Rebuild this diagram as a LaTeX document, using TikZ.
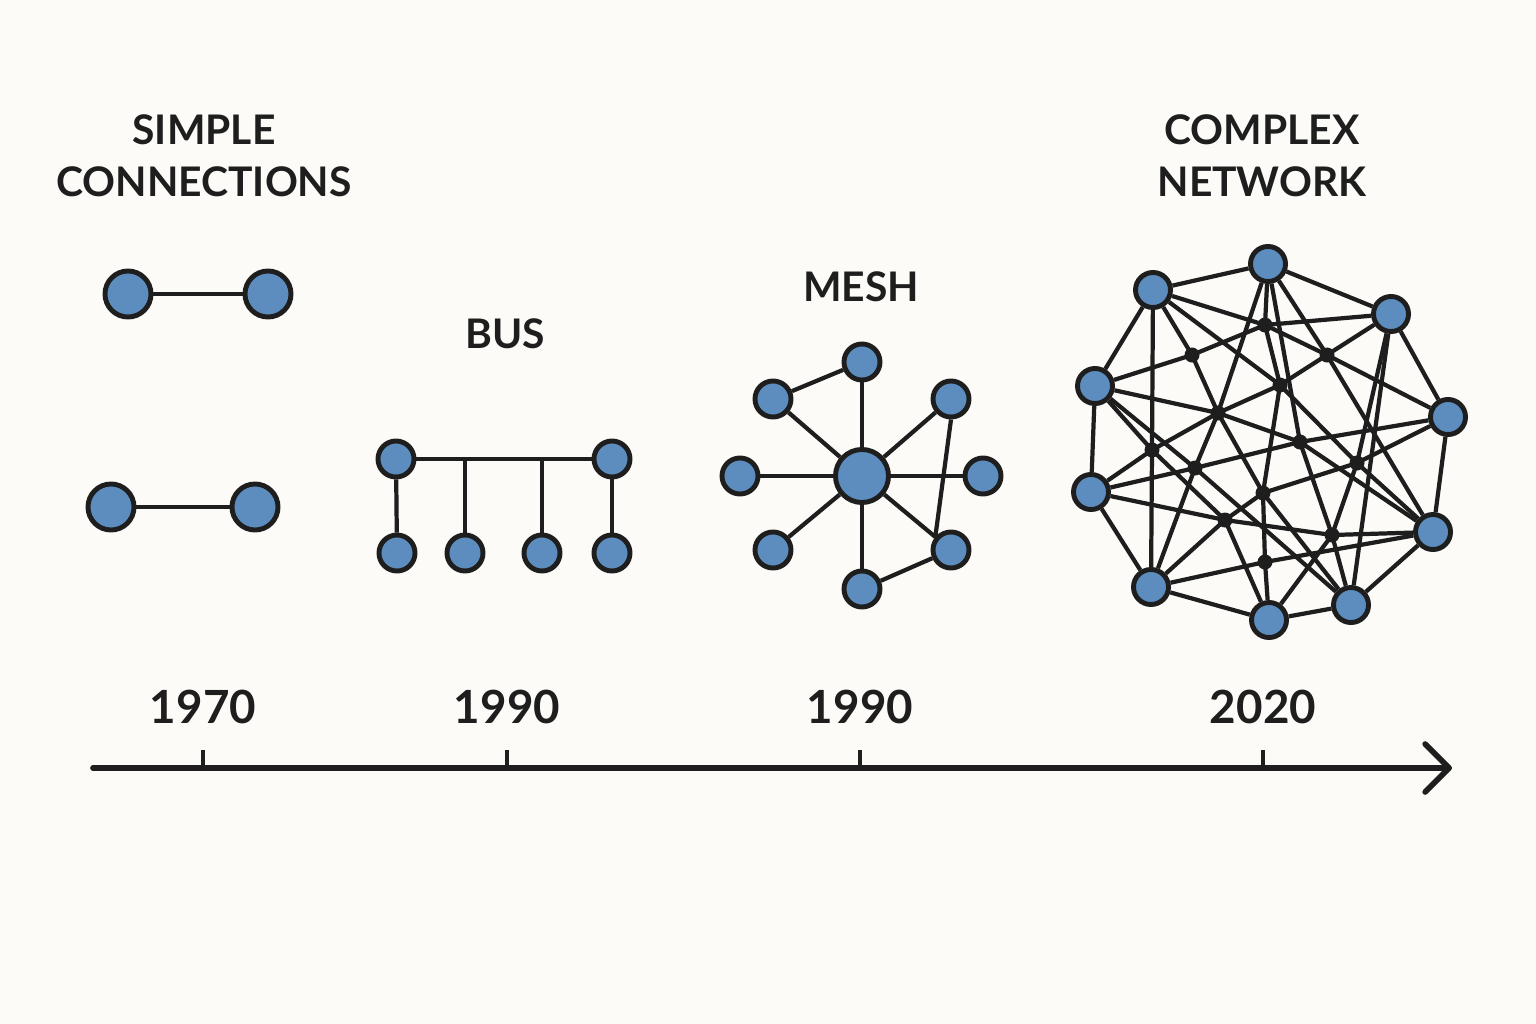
\documentclass[tikz,border=0pt]{standalone}
\usepackage{fontspec}
\setmainfont{Lato}
\usetikzlibrary{arrows.meta}
\definecolor{paper}{RGB}{252,251,247}
\definecolor{ink}{RGB}{30,30,30}
\definecolor{hostblue}{RGB}{92,141,190}
\tikzset{
    host/.style={draw=ink,fill=hostblue,circle,line width=1.4pt,inner sep=0pt,minimum size=3.6mm},
    link/.style={ink,line width=1.2pt,line join=round},
    junc/.style={ink,fill,circle,inner sep=0pt,minimum size=1.5mm},
    era/.style={ink,font=\bfseries\fontsize{11.6}{14.7}\selectfont,align=center,inner sep=0pt},
    yr/.style={ink,font=\bfseries\fontsize{13}{16}\selectfont,inner sep=0pt}
}

\begin{document}
\begin{tikzpicture}[x=0.01cm,y=-0.01cm]
    \fill [paper] (0,0) rectangle (1536,1024);
    \useasboundingbox (0,0) rectangle (1536,1024);

    % titles
    \node [era] (tsimple) at (204,156) {SIMPLE\\CONNECTIONS};
    \node [era] (tbus) at (505,334) {BUS};
    \node [era] (tmesh) at (861,287) {MESH};
    \node [era] (tcomplex) at (1262,156) {COMPLEX\\NETWORK};

    % simple connections
    \node [host,minimum size=4.6mm] (s1) at (128,294) {};
    \node [host,minimum size=4.6mm] (s2) at (268,294) {};
    \node [host,minimum size=4.6mm] (s3) at (111,507) {};
    \node [host,minimum size=4.6mm] (s4) at (255,507) {};
    \draw [link] (s1) -- (s2);
    \draw [link] (s3) -- (s4);

    % bus
    \node [host] (b1) at (396,459) {};
    \node [host] (b2) at (612,459) {};
    \foreach \n/\x in {b3/397,b4/465,b5/542,b6/612} {
        \node [host] (\n) at (\x,553) {};
    }
    \coordinate (tap1) at (465,459);
    \coordinate (tap2) at (542,459);
    \draw [link] (b1) -- (b2);
    \draw [link] (b1) -- (b3);
    \draw [link] (tap1) -- (b4);
    \draw [link] (tap2) -- (b5);
    \draw [link] (b2) -- (b6);

    % mesh
    \node [host,minimum size=5.3mm] (m0) at (862,476) {};
    \foreach \n/\x/\y in {m1/862/362, m2/951/399, m3/983/476, m4/951/550,
                          m5/862/589, m6/773/550, m7/740/476, m8/773/399} {
        \node [host] (\n) at (\x,\y) {};
        \draw [link] (m0) -- (\n);
    }
    \draw [link] (m1) -- (m8);
    \draw [link] (m5) -- (m4);
    \draw [link] (m2.south) -- (m4.140);

    % complex network
    \foreach \n/\x/\y in {ca/1268/264, cb/1153/290, cc/1391/314, cd/1095/386,
                          ce/1448/417, cf/1091/492, cg/1433/532, ch/1151/587,
                          ci/1269/620, cj/1351/605} {
        \node [host,minimum size=3.5mm] (\n) at (\x,\y) {};
    }
    \foreach \n/\x/\y in {x1/1265/325, x2/1192/355, x3/1327/355, x4/1280/385,
                          x5/1218/413, x6/1152/450, x7/1300/442, x8/1357/463,
                          x9/1195/468, x10/1263/493, x11/1225/520, x12/1332/535,
                          x13/1265/562} {
        \coordinate (\n) at (\x,\y);
    }
    \draw [link] (ca) -- (cb) -- (cd) -- (cf) -- (ch) -- (ci) -- (cj) -- (cg) -- (ce) -- (cc) -- (ca);
    \draw [link] (ca) -- (x5) -- (x9) -- (ch);
    \draw [link] (cb) -- (x6) -- (ch);
    \draw [link] (cd) -- (x2) -- (x1) -- (cc);
    \draw [link] (ca) -- (x1) -- (x4) -- (x10) -- (x13) -- (ci);
    \draw [link] (ca) -- (x3) -- (cg);
    \draw [link] (ca) -- (x7) -- (x12) -- (cj);
    \draw [link] (cb) -- (x4) -- (x8) -- (cg);
    \draw [link] (cf) -- (x6) -- (x5) -- (x4) -- (cc);
    \draw [link] (cf) -- (x9) -- (x7) -- (ce);
    \draw [link] (cf) -- (x11) -- (x12) -- (cg);
    \draw [link] (ce) -- (x8) -- (x10) -- (x11) -- (ch);
    \draw [link] (ce) -- (x3) -- (x1) -- (cb);
    \draw [link] (cc) -- (cj);
    \draw [link] (cg) -- (x13) -- (ch);
    \draw [link] (cd) -- (x9) -- (cj);
    \draw [link] (cb) -- (x2) -- (x5) -- (x10) -- (cj);
    \draw [link] (cd) -- (x5) -- (x7) -- (cg);
    \draw [link] (ci) -- (x11) -- (x6) -- (cd);
    \draw [link] (cc) -- (x8) -- (x12) -- (ci);
    \foreach \j in {1,...,13} {
        \node [junc] (d\j) at (x\j) {};
    }

    % time line
    \coordinate (t0) at (93,768);
    \coordinate (t1) at (1452,768);
    \draw [ink,line width=1.6pt,line cap=round,-{Straight Barb[length=2.4mm,width=4.8mm,round]}] (t0) -- (t1);
    \foreach \x/\lbl in {203/1970,507/1990,860/1990,1263/2020} {
        \draw [ink,line width=1pt] (\x,750) -- (\x,768);
        \node [yr] (y\x) at (\x,707) {\lbl};
    }
\end{tikzpicture}
\end{document}
